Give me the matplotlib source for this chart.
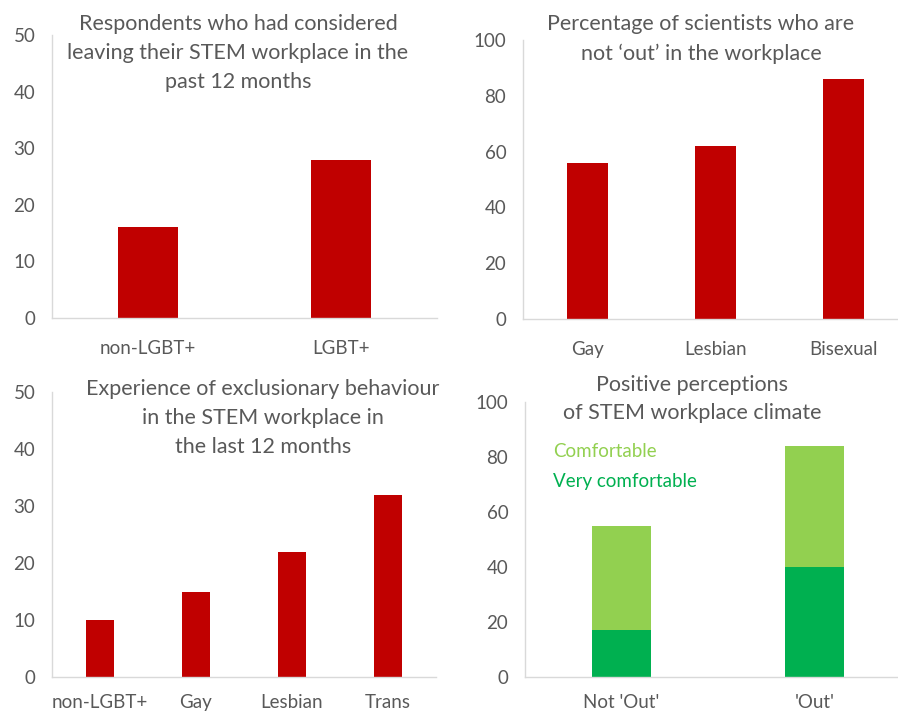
import matplotlib
matplotlib.use("Agg")
import matplotlib.pyplot as plt

plt.rcParams['font.family'] = ['Lato', 'DejaVu Sans']

# data
leave_cats = ["non-LGBT+", "LGBT+"]
leave_vals = [16, 28]

notout_cats = ["Gay", "Lesbian", "Bisexual"]
notout_vals = [56, 62, 86]

excl_cats = ["non-LGBT+", "Gay", "Lesbian", "Trans"]
excl_vals = [10, 15, 22, 32]

clim_cats = ["Not 'Out'", "'Out'"]
very_comf = [17, 40]
comf = [38, 44]

RED = "#C00000"
LGREEN = "#92D050"
DGREEN = "#00B050"
TXT = "#595959"
W, H = 898, 714

fig = plt.figure(figsize=(W / 100, H / 100), dpi=100)


def make_ax(l, r, t, b):
    return fig.add_axes([l / W, (H - b) / H, (r - l) / W, (b - t) / H])


def style(ax, ymax, step, xpad):
    ax.set_ylim(0, ymax)
    ax.set_yticks(range(0, ymax + 1, step))
    for s in ["top", "right"]:
        ax.spines[s].set_visible(False)
    for s in ["left", "bottom"]:
        ax.spines[s].set_color("#D9D9D9")
        ax.spines[s].set_linewidth(1)
    ax.tick_params(length=0, labelsize=13.5, colors=TXT)
    ax.tick_params(axis="y", pad=12)
    ax.tick_params(axis="x", pad=xpad)


def title(x, y, txt):
    fig.text(x / W, 1 - y / H, txt, ha="center", va="center", fontsize=15.5,
             color=TXT, linespacing=1.55)


ax1 = make_ax(52, 437, 35, 318)
ax1.bar(leave_cats, leave_vals, width=0.31, color=RED)
ax1.set_xlim(-0.5, 1.5)
style(ax1, 50, 10, 16)
title(238, 53, "Respondents who had considered\nleaving their STEM workplace in the\npast 12 months")

ax2 = make_ax(523, 908, 40, 319)
ax2.bar(notout_cats, notout_vals, width=0.32, color=RED)
ax2.set_xlim(-0.5, 2.5)
style(ax2, 100, 20, 16)
title(701, 39, "Percentage of scientists who are\nnot \u2018out\u2019 in the workplace")

ax3 = make_ax(52, 436, 392, 677)
ax3.bar(excl_cats, excl_vals, width=0.30, color=RED)
ax3.set_xlim(-0.5, 3.5)
style(ax3, 50, 10, 12)
title(263, 418, "Experience of exclusionary behaviour\nin the STEM workplace in\nthe last 12 months")

ax4 = make_ax(525, 911, 402, 677)
ax4.bar(clim_cats, very_comf, width=0.31, color=DGREEN)
ax4.bar(clim_cats, comf, width=0.31, bottom=very_comf, color=LGREEN)
ax4.set_xlim(-0.5, 1.5)
style(ax4, 100, 20, 12)
title(692, 399, "Positive perceptions\nof STEM workplace climate")
ax4.text(0.073, 82, "Comfortable", transform=ax4.get_yaxis_transform(),
         color=LGREEN, fontsize=13.5, va="center")
ax4.text(0.073, 71, "Very comfortable", transform=ax4.get_yaxis_transform(),
         color=DGREEN, fontsize=13.5, va="center")

fig.savefig("out.png", dpi=100)
